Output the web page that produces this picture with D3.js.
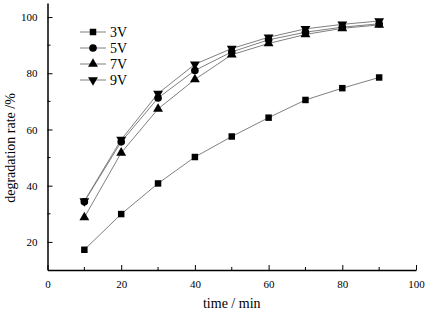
<!DOCTYPE html>
<html>
<head>
<meta charset="utf-8">
<script src="https://cdn.jsdelivr.net/npm/d3@7"></script>
<style>
  body { margin: 0; background: #fff; }
  svg text { font-family: "Liberation Serif", "Times New Roman", serif; fill: #000; }
</style>
</head>
<body>
<svg id="chart"></svg>
<script>
const times = [10, 20, 30, 40, 50, 60, 70, 80, 90];
const seriesNames = ["3V", "5V", "7V", "9V"];
const v3 = [17.2, 29.9, 40.8, 50.2, 57.5, 64.2, 70.5, 74.7, 78.5];
const v5 = [34.3, 55.6, 71.2, 81.0, 87.6, 91.9, 94.6, 96.4, 97.6];
const v7 = [28.7, 51.7, 67.3, 77.8, 86.6, 90.6, 93.8, 96.0, 97.2];
const v9 = [34.5, 56.4, 72.8, 83.2, 88.8, 92.8, 95.8, 97.4, 98.6];
const xTicks = [0, 20, 40, 60, 80, 100];
const yTicks = [20, 40, 60, 80, 100];

const width = 425, height = 312;
const margin = {top: 3, right: 9, bottom: 42, left: 47.5};

const svg = d3.select("#chart")
    .attr("width", width)
    .attr("height", height);

const x = d3.scaleLinear().domain([0, 100]).range([margin.left, width - margin.right]);
const y = d3.scaleLinear().domain([10, 105]).range([height - margin.bottom, margin.top]);

// axes with inward ticks
const xAxisG = svg.append("g")
    .attr("transform", `translate(0,${height - margin.bottom})`);
xAxisG.call(d3.axisBottom(x).tickValues(xTicks).tickSize(-5).tickPadding(10).tickSizeOuter(0));
xAxisG.append("g").selectAll("line")
    .data(d3.range(10, 100, 20))
    .join("line")
    .attr("x1", d => x(d)).attr("x2", d => x(d))
    .attr("y1", 0).attr("y2", -3)
    .attr("stroke", "#000");

const yAxisG = svg.append("g")
    .attr("transform", `translate(${margin.left},0)`);
yAxisG.call(d3.axisLeft(y).tickValues(yTicks).tickSize(-5).tickPadding(10).tickSizeOuter(0));
yAxisG.append("g").selectAll("line")
    .data(d3.range(30, 100, 20))
    .join("line")
    .attr("x1", 0).attr("x2", 3)
    .attr("y1", d => y(d)).attr("y2", d => y(d))
    .attr("stroke", "#000");

svg.selectAll(".domain").attr("stroke", "#000").attr("stroke-width", 1.5);
svg.selectAll(".tick text")
    .style("font-family", '"Liberation Serif", "Times New Roman", serif')
    .style("font-size", "11px");

// axis titles
svg.append("text")
    .attr("x", x(50))
    .attr("y", 308)
    .attr("text-anchor", "middle")
    .style("font-size", "14px")
    .text("time / min");

svg.append("text")
    .attr("transform", `translate(15,148) rotate(-90)`)
    .attr("text-anchor", "middle")
    .style("font-size", "14px")
    .text("degradation rate /%");

// series
const data = [v3, v5, v7, v9];
const symbols = [d3.symbolSquare, d3.symbolCircle, d3.symbolTriangle, d3.symbolTriangle];
const rotations = [0, 0, 0, 180];
const symbolSizes = [42, 46, 42, 42];

const line = d3.line()
    .x((d, i) => x(times[i]))
    .y(d => y(d));

data.forEach((vals, k) => {
    svg.append("path")
        .datum(vals)
        .attr("d", line)
        .attr("fill", "none")
        .attr("stroke", "#808080")
        .attr("stroke-width", 1);
});

data.forEach((vals, k) => {
    svg.append("g").selectAll("path")
        .data(vals)
        .join("path")
        .attr("d", d3.symbol().type(symbols[k]).size(symbolSizes[k]))
        .attr("transform", (d, i) => `translate(${x(times[i])},${y(d)}) rotate(${rotations[k]})`)
        .attr("fill", "#000");
});

// legend
const legend = svg.append("g");
seriesNames.forEach((name, k) => {
    const ly = 32 + k * 16;
    legend.append("line")
        .attr("x1", 80).attr("x2", 106)
        .attr("y1", ly).attr("y2", ly)
        .attr("stroke", "#808080");
    legend.append("path")
        .attr("d", d3.symbol().type(symbols[k]).size(symbolSizes[k]))
        .attr("transform", `translate(93,${ly}) rotate(${rotations[k]})`)
        .attr("fill", "#000");
    legend.append("text")
        .attr("x", 110)
        .attr("y", ly + 5)
        .style("font-size", "14px")
        .text(name);
});
</script>
</body>
</html>
